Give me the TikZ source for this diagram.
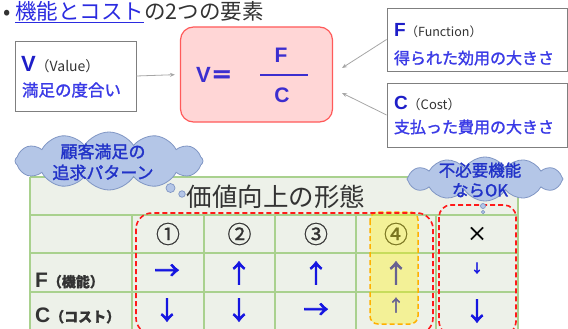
\documentclass[tikz,border=0pt]{standalone}
\usepackage{fontspec}
\setmainfont{Noto Sans CJK JP}
\newfontfamily\jpb[FakeBold=1.5]{Noto Sans CJK JP}
\newfontfamily\jpm[FakeBold=0.8]{Noto Sans CJK JP}
\newfontfamily\jparr[FakeBold=3]{Noto Sans CJK JP}
\newfontfamily\latb{Liberation Sans}
\usetikzlibrary{shapes.symbols,arrows.meta}
\definecolor{linkblue}{HTML}{2B2BE0}
\definecolor{darktext}{HTML}{333333}
\definecolor{boxgray}{HTML}{7F7F7F}
\definecolor{vblue}{HTML}{1E1EC8}
\definecolor{txtblue}{HTML}{3A3AE6}
\definecolor{pinkfill}{HTML}{FFD6D6}
\definecolor{pinkborder}{HTML}{FF5A5A}
\definecolor{formblue}{HTML}{3C2ECF}
\definecolor{conngray}{HTML}{A6A6A6}
\definecolor{tablefill}{HTML}{EDF1E9}
\definecolor{gridgreen}{HTML}{A9D18E}
\definecolor{reddash}{HTML}{FF1A1A}
\definecolor{orangedash}{HTML}{FFB000}
\definecolor{hiyellow}{HTML}{FFF200}
\definecolor{cloudfill}{HTML}{B4C6E7}
\definecolor{cloudborder}{HTML}{8096C4}
\definecolor{cloudtext}{HTML}{2132C8}
\definecolor{arrblue}{HTML}{1515E0}
\tikzset{
  infobox/.style={draw=boxgray, fill=white, line width=0.9pt, inner sep=0},
  conn/.style={draw=conngray, line width=0.8pt, -{Stealth[length=5pt,width=4pt]}},
  txt/.style={inner sep=0, outer sep=0},
  grid line/.style={draw=gridgreen, line width=1.1pt},
  hdr/.style={txt, text=darktext, font=\jpm\fontsize{24}{24}\selectfont},
  bigarr/.style={txt, text=arrblue, font=\jparr\fontsize{25}{25}\selectfont},
  thought/.style={circle, draw=cloudborder, fill=cloudfill, line width=0.7pt, inner sep=0},
  cloudbox/.style={cloud, cloud puffs=12, cloud puff arc=115, cloud ignores aspect, draw=cloudborder, fill=cloudfill, line width=0.8pt, inner sep=0},
  cloudtxt/.style={txt, text=cloudtext, align=center, font=\jpb\fontsize{17}{21}\selectfont},
  reddashed/.style={draw=reddash, line width=1.6pt, dash pattern=on 5pt off 3pt, rounded corners=16pt}
}
\begin{document}
\begin{tikzpicture}[x=1pt,y=-1pt]
\useasboundingbox (0,0) rectangle (568,329);
\clip (0,0) rectangle (568,329);

% title
\node[txt, anchor=west, text=darktext, font=\fontsize{21.5}{21.5}\selectfont] (title) at (3,12)
  {•\hspace{5pt}\textcolor{linkblue}{\underline{機能とコスト}}の2つの要素};

% V box
\node[infobox, minimum width=121pt, minimum height=70pt] (vbox) at (75.5,76) {};
\node[txt, anchor=base west] (vlab) at (21,72)
  {\textcolor{vblue}{\latb\bfseries\fontsize{22}{22}\selectfont V}\textcolor{darktext}{\fontsize{14}{14}\selectfont （Value）}};
\node[txt, anchor=west, text=txtblue, font=\jpb\fontsize{16.5}{16.5}\selectfont] (vdesc) at (22,90) {満足の度合い};

% formula box
\node[draw=pinkborder, fill=pinkfill, rounded corners=13pt, line width=1.2pt, minimum width=152pt, minimum height=95pt] (formula) at (256.5,74.5) {};
\node[txt, anchor=base west, text=formblue] (veq) at (196,83) {\latb\bfseries\fontsize{22}{22}\selectfont V\jpb\fontsize{22}{22}\selectfont ＝};
\node[txt, text=formblue, font=\latb\bfseries\fontsize{21}{21}\selectfont] (fnum) at (281,55) {F};
\node[txt, text=formblue, font=\latb\bfseries\fontsize{21}{21}\selectfont] (cden) at (282,95) {C};
\coordinate (barL) at (260,75);
\coordinate (barR) at (308,75);
\draw[formblue, line width=2.2pt] (barL) -- (barR);

% F box
\node[infobox, minimum width=180pt, minimum height=63pt] (fbox) at (477,39.5) {};
\node[txt, anchor=base west] (flab) at (394,37)
  {\textcolor{vblue}{\latb\bfseries\fontsize{19}{19}\selectfont F}\textcolor{darktext}{\fontsize{12.5}{12.5}\selectfont （Function）}};
\node[txt, anchor=west, text=txtblue, font=\jpb\fontsize{16}{16}\selectfont] (fdesc) at (394,58) {得られた効用の大きさ};

% C box
\node[infobox, minimum width=180pt, minimum height=64pt] (cbox) at (477,115) {};
\node[txt, anchor=base west] (clab) at (394,110)
  {\textcolor{vblue}{\latb\bfseries\fontsize{19}{19}\selectfont C}\textcolor{darktext}{\fontsize{13}{13}\selectfont （Cost）}};
\node[txt, anchor=west, text=txtblue, font=\jpb\fontsize{16}{16}\selectfont] (cdesc) at (394,127) {支払った費用の大きさ};

% connectors
\coordinate (fend) at (342,68);
\coordinate (cend) at (342,93);
\draw[conn, shorten >=5pt] (vbox.east) -- (formula.west);
\draw[conn] (fbox.west) -- (fend);
\draw[conn] (cbox.west) -- (cend);

% table
\fill[tablefill] (30,177) rectangle (518,340);
\foreach \yy in {177,215,253,292} \draw[grid line] (30,\yy) -- (518,\yy);
\foreach \xx in {30,518} \draw[grid line] (\xx,177) -- (\xx,340);
\foreach \xx in {132,204,275,356,436} \draw[grid line] (\xx,215) -- (\xx,340);

\node[txt, text=darktext, font=\fontsize{25.5}{25.5}\selectfont] (tabtitle) at (276,197) {価値向上の形態};

\node[hdr] (h1) at (168,234) {①};
\node[hdr] (h2) at (239.5,234) {②};
\node[hdr] (h3) at (316,234) {③};
\node[hdr] (h4) at (396,234) {④};
\node[txt, text=black, font=\jpm\fontsize{20}{20}\selectfont] (hx) at (477,234) {×};

\node[txt, anchor=base west, text=darktext] (rowf) at (35,287)
  {\latb\bfseries\fontsize{21}{21}\selectfont F\jpm\fontsize{14}{14}\selectfont （機能）};
\node[txt, anchor=base west, text=darktext] (rowc) at (35,322)
  {\latb\bfseries\fontsize{21}{21}\selectfont C\jpm\fontsize{14}{14}\selectfont （コスト）};

\node[bigarr] (f1) at (167,272) {→};
\node[bigarr] (f2) at (239,273) {↑};
\node[bigarr] (f3) at (316,273) {↑};
\node[bigarr] (f4) at (396,273) {↑};
\node[txt, text=arrblue, font=\jparr\fontsize{12}{12}\selectfont] (f5) at (477,268) {↓};
\node[bigarr] (c1) at (167,310) {↓};
\node[bigarr] (c2) at (239,310) {↓};
\node[bigarr] (c3) at (316,311) {→};
\node[txt, text=arrblue, font=\jparr\fontsize{16}{16}\selectfont] (c4) at (396,305) {↑};
\node[bigarr] (c5) at (477,311) {↓};

% highlight boxes
\fill[hiyellow, opacity=0.35, rounded corners=8pt] (370,212) rectangle (418,324);
\draw[draw=orangedash, line width=1.5pt, dash pattern=on 5pt off 3pt, rounded corners=8pt] (370,212) rectangle (418,324);
\draw[reddashed] (136,213) rectangle (433,334);
\draw[reddashed, rounded corners=12pt] (439,205) rectangle (516,334);

% clouds
\node[cloudbox, minimum width=188pt, minimum height=58pt] (cloud1) at (109,161) {};
\node[cloudtxt] (cloud1txt) at (103,162) {顧客満足の\\追求パターン};
\node[thought, minimum size=9pt] (bub1) at (170.5,188) {};
\node[thought, minimum size=6.5pt] (bub2) at (182,194) {};

\node[cloudbox, minimum width=156pt, minimum height=44pt] (cloud2) at (485,179) {};
\node[cloudtxt, font=\jpb\fontsize{16.5}{20}\selectfont] (cloud2txt) at (480,180) {不必要機能\\ならOK};
\node[thought, minimum size=5pt] (bub3) at (483,206) {};
\node[thought, minimum size=3.5pt] (bub4) at (483,212) {};
\end{tikzpicture}
\end{document}
